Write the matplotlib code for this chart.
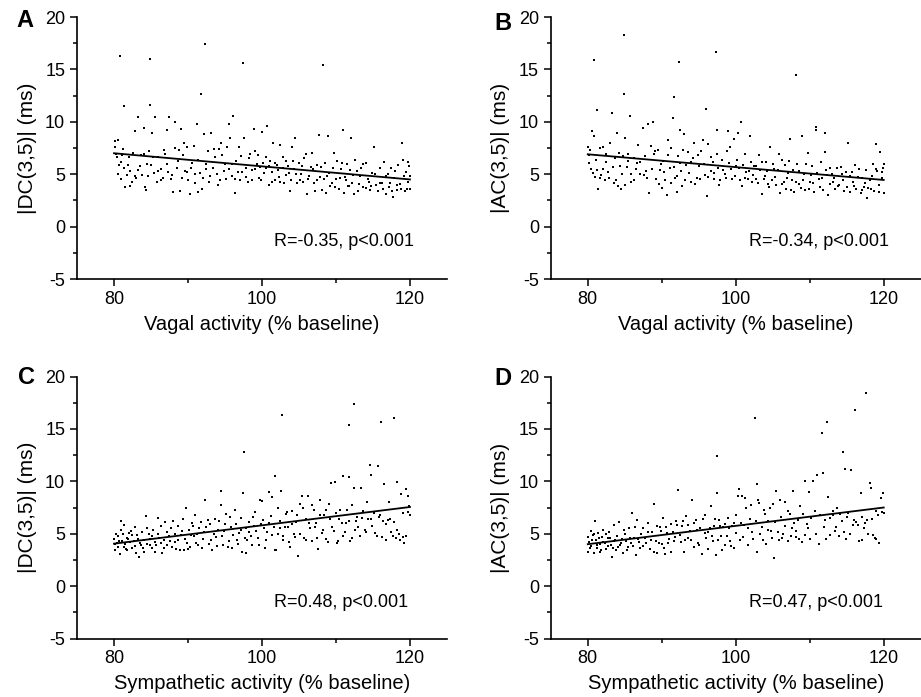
import matplotlib
matplotlib.use("Agg")
import matplotlib.pyplot as plt
from matplotlib.ticker import MultipleLocator
import numpy as np

plt.rcParams["font.family"] = ["Liberation Sans", "DejaVu Sans"]
plt.rcParams["axes.unicode_minus"] = False

# data: (activity % baseline, |DC| or |AC| in ms)
points_a = np.array([
    (80.1, 8.2), (80.3, 6.9), (80.4, 6.6), (80.5, 5.0), (80.6, 8.3), (80.8, 16.3), (80.9, 6.2), (81.0, 4.5),
    (81.2, 7.4), (81.3, 5.6), (81.4, 11.5), (81.5, 3.8), (81.7, 4.9), (82.0, 6.6), (82.2, 5.3), (82.4, 4.3),
    (82.6, 7.0), (82.8, 9.1), (83.0, 4.6), (83.2, 5.4), (83.3, 10.5), (83.6, 6.8), (83.8, 4.9), (84.0, 9.4),
    (84.2, 3.8), (84.3, 3.5), (84.5, 6.0), (84.7, 7.2), (84.9, 16.0), (84.9, 11.6), (85.0, 5.9), (85.2, 8.9),
    (85.4, 5.1), (85.6, 10.5), (85.8, 4.3), (86.0, 6.6), (86.3, 5.5), (86.6, 4.6), (86.9, 6.9), (87.1, 9.2),
    (87.3, 5.2), (87.5, 10.5), (87.7, 4.5), (88.0, 3.3), (88.2, 7.5), (88.3, 10.0), (88.5, 5.6), (88.8, 7.3),
    (89.0, 9.3), (89.2, 4.6), (89.4, 8.0), (89.6, 5.3), (89.8, 7.6), (90.0, 4.4), (90.3, 3.1), (90.6, 6.1),
    (90.8, 7.7), (91.0, 5.0), (91.2, 9.8), (91.4, 3.3), (91.7, 12.7), (91.9, 3.6), (92.1, 8.8), (92.3, 17.4),
    (92.5, 5.5), (92.7, 7.2), (92.9, 4.3), (93.1, 8.9), (93.4, 5.6), (93.7, 6.6), (94.0, 4.0), (94.2, 7.4),
    (94.5, 8.0), (94.8, 5.3), (95.0, 6.0), (95.3, 7.6), (95.5, 9.8), (95.7, 8.5), (95.9, 4.8), (96.1, 10.6),
    (96.3, 3.2), (96.5, 6.3), (96.8, 5.2), (97.0, 4.4), (97.2, 6.7), (97.4, 15.6), (97.6, 8.5), (97.9, 5.6),
    (98.1, 4.3), (98.4, 6.9), (98.7, 5.4), (98.9, 9.3), (99.1, 7.2), (99.3, 6.0), (99.6, 4.6), (99.8, 5.7),
    (100.0, 9.0), (100.2, 6.1), (100.5, 5.6), (100.7, 9.6), (100.9, 4.0), (101.1, 6.3), (101.3, 5.2), (101.5, 8.0),
    (101.8, 4.4), (102.0, 5.9), (102.3, 4.7), (102.5, 7.8), (102.8, 5.6), (103.0, 4.2), (103.3, 6.3), (103.6, 5.1),
    (103.8, 3.4), (104.1, 7.6), (104.3, 5.5), (104.5, 8.5), (104.8, 4.2), (105.0, 6.1), (105.3, 5.0), (105.6, 4.3),
    (105.9, 6.9), (106.1, 3.1), (106.4, 4.8), (106.7, 7.0), (106.9, 5.5), (107.2, 3.4), (107.5, 4.4), (107.7, 8.7),
    (108.0, 5.7), (108.2, 15.4), (108.4, 4.5), (108.7, 3.2), (108.9, 8.6), (109.1, 5.1), (109.4, 4.2), (109.7, 7.0),
    (109.9, 3.8), (110.2, 6.3), (110.5, 4.6), (110.7, 5.5), (110.9, 9.2), (111.1, 3.2), (111.3, 4.4), (111.5, 6.0),
    (111.8, 3.9), (112.0, 8.5), (112.3, 4.9), (112.5, 3.1), (112.8, 5.3), (113.1, 4.1), (113.4, 5.6), (113.7, 3.8),
    (114.0, 6.1), (114.3, 4.5), (114.6, 3.5), (114.9, 5.1), (115.2, 7.6), (115.4, 4.0), (115.7, 3.4), (116.0, 5.6),
    (116.2, 4.2), (116.5, 6.2), (116.7, 3.1), (117.0, 5.0), (117.2, 3.8), (117.4, 5.6), (117.7, 2.8), (117.9, 4.6),
    (118.2, 3.5), (118.4, 5.9), (118.6, 4.1), (118.9, 8.0), (119.1, 6.4), (119.3, 3.4), (119.5, 5.2), (119.7, 4.3),
    (119.9, 5.8), (120.0, 3.6), (120.0, 4.8),
    # dense part of the cloud
    (80.2, 7.6), (80.7, 5.9), (81.1, 6.8), (81.9, 5.9), (82.1, 3.9), (82.9, 4.8), (83.5, 5.8), (84.1, 6.9),
    (84.6, 4.8), (85.3, 6.6), (85.9, 5.3), (86.4, 4.4), (86.8, 7.3), (87.2, 6.0), (87.9, 4.9), (88.6, 6.3),
    (88.9, 3.4), (89.3, 6.8), (89.9, 5.2), (90.4, 5.6), (90.9, 4.2), (91.3, 6.4), (91.6, 5.1), (92.0, 4.6),
    (92.4, 6.0), (93.0, 4.8), (93.5, 7.4), (93.9, 5.0), (94.3, 4.4), (94.6, 6.8), (95.1, 4.5), (95.6, 5.5),
    (96.0, 6.0), (96.4, 4.5), (96.9, 7.6), (97.3, 5.2), (97.8, 4.7), (98.2, 6.5), (98.6, 4.4), (99.0, 5.5),
    (99.4, 6.8), (99.9, 4.4), (100.3, 5.1), (100.6, 6.6), (101.0, 5.8), (101.4, 4.3), (101.7, 6.1), (102.1, 5.4),
    (102.4, 4.3), (102.9, 6.6), (103.2, 4.9), (103.5, 5.8), (103.9, 4.4), (104.2, 6.3), (104.6, 5.0), (105.1, 4.4),
    (105.4, 5.8), (105.7, 6.5), (106.2, 4.5), (106.6, 5.7), (107.0, 4.2), (107.4, 5.9), (107.8, 4.7), (108.1, 3.5),
    (108.5, 6.1), (108.8, 4.8), (109.2, 3.9), (109.6, 5.6), (110.0, 4.5), (110.4, 3.6), (110.8, 6.1), (111.2, 4.7),
    (111.6, 3.9), (111.9, 5.4), (112.2, 4.2), (112.6, 6.4), (113.0, 3.4), (113.3, 4.8), (113.6, 6.0), (114.1, 3.7),
    (114.5, 4.3), (114.8, 3.9), (115.3, 5.0), (115.9, 4.2), (116.3, 3.6), (116.8, 4.8), (117.3, 4.2), (117.6, 3.4),
    (118.0, 5.3), (118.3, 4.0), (118.8, 3.6), (119.2, 4.8), (119.6, 3.6), (119.8, 6.2),
])

points_b = np.array([
    (80.1, 7.6), (80.2, 6.1), (80.3, 7.3), (80.5, 5.5), (80.6, 9.1), (80.8, 15.9), (80.9, 8.6), (81.0, 4.7),
    (81.2, 5.4), (81.3, 11.1), (81.4, 3.6), (81.6, 7.5), (81.8, 4.9), (82.1, 7.6), (82.3, 4.4), (82.5, 6.9),
    (82.7, 5.2), (83.0, 8.0), (83.3, 10.8), (83.5, 4.2), (83.7, 6.5), (83.9, 8.9), (84.1, 3.9), (84.3, 5.8),
    (84.5, 3.6), (84.7, 6.7), (84.9, 18.3), (84.9, 12.7), (85.1, 8.5), (85.3, 5.7), (85.5, 6.3), (85.7, 10.6),
    (85.9, 4.3), (86.2, 6.5), (86.5, 5.5), (86.8, 7.8), (87.1, 6.2), (87.4, 9.4), (87.6, 4.9), (87.9, 5.3),
    (88.2, 9.8), (88.3, 3.2), (88.5, 7.7), (88.8, 10.0), (89.0, 6.9), (89.2, 4.5), (89.5, 7.3), (89.7, 5.4),
    (90.0, 3.7), (90.2, 6.3), (90.5, 4.4), (90.7, 3.0), (90.9, 8.3), (91.1, 5.6), (91.3, 7.5), (91.5, 10.4),
    (91.6, 12.4), (91.8, 4.6), (92.0, 3.3), (92.2, 6.7), (92.3, 15.7), (92.4, 9.2), (92.6, 5.3), (92.8, 3.9),
    (93.0, 8.8), (93.3, 5.9), (93.6, 7.1), (93.9, 4.3), (94.2, 6.5), (94.4, 8.0), (94.7, 4.6), (95.0, 5.8),
    (95.3, 7.2), (95.6, 8.3), (95.8, 4.9), (96.0, 11.2), (96.1, 2.9), (96.3, 7.9), (96.6, 5.3), (96.9, 6.2),
    (97.1, 4.5), (97.3, 16.7), (97.4, 9.2), (97.6, 5.6), (97.9, 4.4), (98.2, 6.4), (98.5, 5.0), (98.8, 7.2),
    (98.9, 9.15), (99.2, 7.6), (99.5, 4.5), (99.8, 8.4), (100.1, 5.8), (100.3, 8.9), (100.5, 5.6), (100.7, 10.0),
    (100.9, 3.9), (101.2, 6.9), (101.4, 5.2), (101.7, 4.5), (101.9, 8.6), (102.2, 4.3), (102.5, 5.8), (102.8, 4.5),
    (103.1, 6.8), (103.3, 5.4), (103.6, 3.1), (103.9, 4.8), (104.1, 6.2), (104.4, 4.1), (104.6, 7.6), (104.9, 4.4),
    (105.2, 5.5), (105.5, 4.0), (105.8, 6.9), (106.0, 3.2), (106.3, 6.4), (106.5, 4.3), (106.8, 3.6), (107.0, 5.1),
    (107.3, 8.4), (107.6, 4.4), (107.9, 3.3), (108.2, 14.5), (108.3, 6.0), (108.6, 4.1), (108.9, 8.6), (109.2, 5.0),
    (109.4, 3.5), (109.7, 7.0), (110.0, 4.3), (110.3, 5.8), (110.6, 3.3), (110.8, 9.2), (110.9, 9.5), (111.2, 4.5),
    (111.5, 6.2), (111.8, 3.5), (112.0, 7.1), (112.1, 8.9), (112.3, 4.9), (112.5, 3.0), (112.8, 5.6), (113.1, 4.3),
    (113.4, 3.6), (113.7, 5.6), (114.0, 4.0), (114.3, 5.0), (114.6, 3.4), (114.9, 5.2), (115.2, 8.0), (115.5, 3.3),
    (115.8, 4.3), (116.1, 5.9), (116.3, 3.6), (116.6, 5.5), (116.9, 3.2), (117.1, 4.6), (117.4, 3.8), (117.6, 5.4),
    (117.8, 2.7), (118.1, 4.4), (118.3, 3.6), (118.6, 6.0), (118.9, 7.9), (119.1, 5.3), (119.3, 3.3), (119.5, 7.1),
    (119.7, 4.6), (119.9, 5.6), (120.0, 3.2), (120.0, 6.0),
    # dense part of the cloud
    (80.2, 6.8), (80.7, 5.1), (81.1, 6.4), (81.7, 4.6), (82.0, 5.5), (82.4, 6.2), (82.9, 4.6), (83.4, 5.7),
    (83.8, 4.4), (84.2, 7.0), (84.6, 5.0), (85.0, 4.0), (85.4, 6.9), (85.8, 5.0), (86.3, 4.4), (86.7, 6.1),
    (87.0, 5.0), (87.7, 6.7), (88.0, 4.6), (88.7, 5.5), (89.1, 7.2), (89.6, 4.1), (89.9, 6.0), (90.3, 5.2),
    (90.8, 6.8), (91.2, 4.2), (91.7, 5.7), (92.1, 4.8), (92.5, 6.1), (92.9, 7.3), (93.2, 4.4), (93.7, 5.1),
    (94.0, 6.2), (94.5, 4.1), (94.9, 6.8), (95.2, 4.5), (95.7, 6.0), (96.2, 4.7), (96.7, 6.6), (97.0, 5.1),
    (97.5, 6.9), (97.8, 4.0), (98.3, 5.4), (98.7, 4.6), (99.1, 6.1), (99.4, 5.5), (99.9, 4.8), (100.2, 6.4),
    (100.6, 4.4), (101.0, 5.9), (101.3, 4.6), (101.8, 5.3), (102.1, 6.2), (102.4, 4.9), (102.7, 5.8), (103.0, 4.2),
    (103.5, 6.2), (103.8, 4.5), (104.2, 5.3), (104.5, 3.8), (105.0, 6.0), (105.3, 4.7), (105.7, 5.4), (106.2, 4.1),
    (106.6, 5.9), (106.9, 4.6), (107.2, 6.3), (107.5, 3.5), (107.8, 5.4), (108.1, 4.3), (108.5, 5.3), (108.8, 3.7),
    (109.1, 4.4), (109.5, 6.0), (109.9, 3.6), (110.2, 4.9), (110.5, 4.2), (111.0, 5.1), (111.4, 3.8), (111.7, 4.6),
    (112.2, 5.4), (112.7, 4.1), (113.0, 5.0), (113.3, 4.6), (113.8, 3.9), (114.2, 5.7), (114.5, 4.4), (115.0, 3.8),
    (115.4, 4.8), (115.7, 5.2), (116.0, 3.9), (116.5, 4.7), (117.0, 3.5), (117.5, 4.2), (117.9, 3.7), (118.4, 4.8),
    (118.7, 3.4), (119.0, 5.5), (119.4, 4.0), (119.8, 5.2),
])

points_c = np.array([
    (80.0, 4.5), (80.1, 3.4), (80.3, 5.0), (80.4, 4.1), (80.5, 3.7), (80.6, 4.8), (80.8, 3.1), (80.9, 5.4),
    (81.0, 6.2), (81.1, 4.3), (81.3, 3.7), (81.4, 5.8), (81.5, 4.0), (81.7, 4.6), (81.8, 3.4), (82.0, 5.1),
    (82.2, 4.2), (82.4, 3.6), (82.5, 4.9), (82.7, 4.3), (82.9, 5.6), (83.0, 3.2), (83.2, 4.5), (83.4, 2.8),
    (83.6, 3.9), (83.8, 5.2), (84.0, 4.4), (84.1, 3.3), (84.3, 6.7), (84.5, 4.0), (84.7, 5.0), (84.9, 4.5),
    (85.1, 3.6), (85.3, 5.4), (85.5, 4.2), (85.7, 3.9), (85.9, 6.5), (86.1, 4.6), (86.3, 5.7), (86.5, 3.2),
    (86.7, 4.4), (86.9, 6.1), (87.1, 3.9), (87.4, 4.8), (87.7, 5.5), (88.0, 6.2), (88.2, 4.2), (88.4, 3.5),
    (88.7, 5.7), (89.0, 4.9), (89.3, 6.4), (89.5, 3.4), (89.7, 7.5), (89.9, 4.1), (90.1, 5.4), (90.3, 3.7),
    (90.6, 6.0), (90.8, 4.8), (91.0, 6.8), (91.2, 5.0), (91.4, 3.9), (91.7, 6.1), (92.0, 4.5), (92.3, 8.2),
    (92.5, 5.6), (92.8, 4.0), (93.0, 5.9), (93.3, 3.4), (93.6, 6.4), (93.8, 4.7), (94.1, 5.4), (94.4, 9.1),
    (94.5, 7.7), (94.7, 3.9), (94.9, 5.3), (95.2, 6.9), (95.5, 4.3), (95.8, 5.6), (96.0, 3.6), (96.3, 7.3),
    (96.6, 4.4), (96.9, 5.1), (97.1, 6.5), (97.3, 3.3), (97.5, 8.85), (97.6, 12.8), (97.8, 5.5), (98.0, 4.4),
    (98.3, 6.1), (98.6, 3.9), (98.9, 5.7), (99.1, 7.1), (99.4, 4.6), (99.7, 8.2), (99.9, 5.9), (100.2, 6.3),
    (100.4, 3.6), (100.7, 5.2), (101.0, 9.0), (101.2, 6.7), (101.4, 4.9), (101.7, 10.5), (101.9, 3.4), (102.2, 7.5),
    (102.4, 5.5), (102.6, 9.1), (102.7, 16.3), (102.9, 4.4), (103.2, 6.9), (103.5, 5.6), (103.8, 3.7), (104.0, 7.2),
    (104.3, 5.0), (104.6, 6.1), (104.9, 2.9), (105.1, 7.8), (105.4, 8.6), (105.7, 4.6), (105.9, 6.4), (106.2, 8.6),
    (106.5, 5.5), (106.8, 4.3), (107.0, 7.3), (107.3, 6.0), (107.6, 3.5), (107.9, 8.2), (108.1, 5.1), (108.4, 6.8),
    (108.7, 4.5), (109.0, 7.8), (109.3, 9.8), (109.5, 5.6), (109.9, 9.9), (110.1, 4.1), (110.4, 6.4), (110.6, 7.3),
    (110.9, 4.8), (111.0, 10.5), (111.3, 6.0), (111.7, 15.4), (111.7, 10.45), (111.9, 4.3), (112.1, 7.7), (112.4, 17.4),
    (112.4, 9.4), (112.6, 5.4), (112.9, 6.6), (113.2, 4.8), (113.4, 9.35), (113.7, 7.2), (114.0, 5.2), (114.3, 6.4),
    (114.6, 11.6), (114.7, 10.6), (114.9, 5.7), (115.2, 7.0), (115.5, 4.8), (115.7, 11.5), (115.9, 6.8), (116.1, 15.7),
    (116.3, 6.2), (116.5, 9.7), (116.7, 4.4), (117.0, 6.3), (117.2, 8.0), (117.5, 5.2), (117.8, 16.0), (117.9, 6.1),
    (118.1, 4.6), (118.3, 9.95), (118.5, 5.0), (118.8, 8.8), (119.0, 4.7), (119.2, 4.1), (119.5, 9.25), (119.7, 7.1),
    (119.8, 8.6), (120.0, 6.8),
    # dense part of the cloud
    (80.2, 4.0), (80.7, 4.3), (81.2, 5.0), (81.6, 3.5), (81.9, 4.5), (82.3, 5.3), (82.8, 3.8), (83.1, 4.9),
    (83.5, 4.1), (83.9, 3.6), (84.4, 5.5), (84.8, 3.9), (85.2, 4.8), (85.6, 3.3), (86.0, 5.0), (86.4, 4.1),
    (86.8, 3.6), (87.2, 5.2), (87.6, 4.3), (87.9, 3.7), (88.3, 5.0), (88.6, 4.4), (88.9, 3.4), (89.2, 5.3),
    (89.6, 4.5), (90.0, 3.5), (90.4, 4.9), (90.7, 5.7), (91.1, 4.1), (91.5, 5.5), (91.9, 3.6), (92.2, 5.2),
    (92.7, 6.3), (93.1, 4.4), (93.5, 5.0), (93.9, 3.8), (94.2, 6.2), (94.6, 4.8), (95.0, 5.9), (95.4, 3.7),
    (95.7, 6.6), (96.1, 4.9), (96.5, 5.9), (96.8, 4.0), (97.2, 5.4), (97.7, 4.6), (97.9, 3.2), (98.2, 5.2),
    (98.5, 4.8), (98.8, 6.6), (99.2, 5.3), (99.6, 3.9), (100.0, 8.1), (100.3, 5.5), (100.6, 4.4), (100.9, 6.0),
    (101.3, 8.5), (101.6, 5.6), (101.8, 3.4), (102.1, 5.0), (102.5, 6.2), (102.8, 4.8), (103.1, 5.6), (103.4, 7.1),
    (103.7, 4.2), (104.1, 5.9), (104.4, 4.7), (104.8, 6.8), (105.2, 5.0), (105.6, 7.5), (106.0, 4.4), (106.4, 6.0),
    (106.7, 7.7), (107.1, 5.6), (107.4, 4.6), (107.8, 6.8), (108.2, 5.4), (108.6, 7.3), (108.9, 4.2), (109.2, 6.4),
    (109.7, 5.3), (110.0, 7.0), (110.3, 4.3), (110.8, 6.0), (111.2, 5.2), (111.5, 7.3), (111.8, 6.2), (112.2, 4.6),
    (112.7, 6.2), (113.0, 5.6), (113.5, 6.5), (113.9, 5.4), (114.2, 8.0), (114.8, 6.4), (115.3, 5.1), (115.8, 6.6),
    (116.2, 4.7), (116.8, 5.9), (117.3, 6.4), (117.7, 4.8), (118.2, 5.4), (118.6, 4.4), (119.1, 7.0), (119.4, 4.8),
    (119.9, 7.6),
])

points_d = np.array([
    (80.0, 4.7), (80.1, 3.3), (80.2, 4.2), (80.4, 5.3), (80.5, 3.8), (80.7, 4.9), (80.8, 3.2), (81.0, 6.2),
    (81.1, 4.4), (81.3, 3.6), (81.4, 5.1), (81.6, 4.0), (81.8, 3.4), (81.9, 4.7), (82.1, 5.4), (82.3, 4.1),
    (82.5, 3.5), (82.7, 4.6), (82.9, 5.2), (83.1, 3.9), (83.3, 2.8), (83.5, 4.3), (83.6, 5.8), (83.8, 3.4),
    (84.0, 4.8), (84.2, 6.1), (84.4, 3.9), (84.6, 4.5), (84.8, 3.2), (85.0, 5.0), (85.2, 4.3), (85.4, 3.7),
    (85.6, 5.5), (85.8, 4.1), (86.0, 7.0), (86.2, 4.6), (86.5, 3.0), (86.7, 6.3), (86.9, 4.2), (87.2, 5.0),
    (87.5, 3.8), (87.8, 4.6), (88.1, 6.0), (88.4, 3.5), (88.7, 5.2), (89.0, 7.8), (89.2, 4.3), (89.4, 3.2),
    (89.7, 5.6), (90.0, 4.0), (90.2, 6.5), (90.4, 3.1), (90.7, 5.1), (91.0, 4.5), (91.3, 5.9), (91.6, 4.3),
    (91.9, 6.2), (92.2, 9.15), (92.4, 4.9), (92.7, 5.7), (93.0, 3.3), (93.3, 6.7), (93.5, 4.6), (93.8, 5.3),
    (94.1, 8.2), (94.3, 3.7), (94.6, 6.3), (94.9, 4.1), (95.2, 5.5), (95.5, 3.1), (95.8, 6.8), (96.0, 4.6),
    (96.3, 5.2), (96.6, 7.6), (96.9, 4.3), (97.1, 5.7), (97.3, 3.0), (97.4, 8.9), (97.5, 12.45), (97.7, 6.3),
    (98.0, 4.8), (98.3, 5.6), (98.6, 3.9), (98.9, 6.5), (99.2, 4.3), (99.5, 5.7), (99.8, 3.6), (100.1, 6.8),
    (100.4, 9.3), (100.6, 4.4), (100.9, 8.6), (101.1, 5.8), (101.4, 7.5), (101.7, 3.9), (101.9, 6.4), (102.2, 5.2),
    (102.6, 16.0), (102.9, 9.7), (102.9, 3.3), (103.2, 7.9), (103.5, 5.6), (103.8, 7.3), (104.1, 4.0), (104.4, 6.2),
    (104.7, 5.3), (105.0, 7.8), (105.2, 2.7), (105.5, 9.1), (105.8, 4.4), (106.1, 6.6), (106.4, 5.0), (106.7, 8.0),
    (107.0, 4.3), (107.3, 6.9), (107.6, 5.5), (107.8, 9.1), (108.1, 4.7), (108.4, 6.3), (108.7, 7.6), (109.0, 4.2),
    (109.3, 10.0), (109.6, 5.9), (109.9, 8.95), (110.1, 4.5), (110.5, 10.0), (110.7, 7.2), (111.0, 10.6), (111.2, 4.0),
    (111.6, 14.6), (111.8, 10.8), (112.0, 6.3), (112.3, 15.7), (112.5, 8.5), (112.8, 4.9), (113.1, 6.8), (113.4, 5.3),
    (113.7, 7.5), (114.0, 4.8), (114.3, 6.2), (114.5, 12.8), (114.7, 11.2), (114.9, 4.5), (115.2, 7.0), (115.6, 11.1),
    (115.8, 5.8), (116.1, 16.8), (116.3, 6.1), (116.6, 4.3), (116.9, 8.9), (117.1, 6.6), (117.4, 5.5), (117.6, 18.4),
    (117.8, 6.3), (118.1, 9.8), (118.3, 9.35), (118.5, 4.9), (118.8, 4.6), (119.0, 7.2), (119.3, 4.1), (119.6, 8.4),
    (119.9, 8.9), (120.0, 7.0),
    # dense part of the cloud
    (80.3, 3.6), (80.6, 4.4), (80.9, 5.0), (81.2, 3.9), (81.5, 4.6), (81.7, 3.3), (82.0, 4.2), (82.4, 5.0),
    (82.8, 3.8), (83.0, 4.6), (83.4, 3.6), (83.7, 4.4), (84.1, 3.7), (84.5, 4.1), (84.9, 5.4), (85.3, 3.4),
    (85.7, 4.6), (86.1, 3.8), (86.4, 5.6), (86.8, 4.5), (87.1, 3.6), (87.4, 5.5), (87.9, 4.1), (88.2, 5.2),
    (88.6, 4.4), (88.9, 3.3), (89.3, 5.7), (89.6, 4.1), (89.9, 5.3), (90.3, 3.6), (90.6, 5.6), (90.9, 4.1),
    (91.2, 3.3), (91.5, 5.2), (91.8, 4.7), (92.1, 5.8), (92.6, 4.2), (92.9, 6.2), (93.2, 4.4), (93.6, 5.8),
    (94.0, 4.4), (94.4, 6.0), (94.8, 5.4), (95.1, 3.9), (95.6, 6.4), (95.9, 5.1), (96.2, 3.5), (96.5, 5.5),
    (96.8, 4.8), (97.2, 6.4), (97.6, 4.4), (97.9, 5.7), (98.2, 3.4), (98.5, 5.9), (98.8, 4.8), (99.1, 5.5),
    (99.4, 3.8), (99.7, 6.0), (100.0, 5.1), (100.3, 8.6), (100.7, 6.0), (101.0, 4.7), (101.3, 8.4), (101.6, 5.5),
    (102.0, 7.7), (102.3, 4.5), (102.7, 6.2), (103.0, 8.2), (103.3, 5.0), (103.7, 4.4), (104.0, 6.9), (104.3, 5.4),
    (104.6, 7.5), (104.9, 4.6), (105.3, 6.1), (105.7, 5.2), (106.0, 8.2), (106.3, 4.6), (106.6, 5.7), (107.1, 7.2),
    (107.5, 4.8), (107.9, 6.0), (108.2, 5.3), (108.6, 4.5), (109.1, 6.9), (109.4, 4.9), (109.8, 5.5), (110.2, 6.5),
    (110.9, 5.0), (111.4, 6.8), (111.9, 5.6), (112.2, 4.5), (112.7, 6.5), (113.2, 7.2), (113.6, 5.6), (114.1, 6.9),
    (114.6, 5.2), (115.0, 6.6), (115.5, 5.0), (116.0, 6.3), (116.5, 5.8), (117.0, 4.4), (117.5, 6.0), (117.9, 5.0),
    (118.4, 6.4), (118.9, 4.5), (119.2, 6.8), (119.7, 7.1),
])

# regression lines: value at x=80 and x=120
fit_x = [80, 120]
fit_a = [7.0, 4.5]
fit_b = [6.9, 4.45]
fit_c = [4.05, 7.55]
fit_d = [4.0, 7.5]

panel_letters = ["A", "B", "C", "D"]
ylabels = ["|DC(3,5)| (ms)", "|AC(3,5)| (ms)", "|DC(3,5)| (ms)", "|AC(3,5)| (ms)"]
xlabels = ["Vagal activity (% baseline)", "Vagal activity (% baseline)",
           "Sympathetic activity (% baseline)", "Sympathetic activity (% baseline)"]
stats = ["R=-0.35, p<0.001", "R=-0.34, p<0.001", "R=0.48, p<0.001", "R=0.47, p<0.001"]
all_points = [points_a, points_b, points_c, points_d]
all_fits = [fit_a, fit_b, fit_c, fit_d]

fig = plt.figure(figsize=(9.21, 6.97), dpi=100)
fig.patch.set_facecolor("white")

boxes = [(0.0836, 0.5997, 0.4017, 0.3759), (0.598, 0.5997, 0.4017, 0.3759),
         (0.0836, 0.0839, 0.4017, 0.3759), (0.598, 0.0839, 0.4017, 0.3759)]
letter_pos = [(0.027, 0.970), (0.546, 0.967), (0.029, 0.459), (0.546, 0.457)]
stat_pos = [(120.5, -1.4), (120.7, -1.4), (119.7, -1.6), (119.9, -1.6)]

for i in range(4):
    ax = fig.add_axes(boxes[i])
    pts = all_points[i]
    ax.scatter(pts[:, 0], pts[:, 1], s=4, marker="s", color="k", linewidths=0)
    ax.plot(fit_x, all_fits[i], color="k", linewidth=1.3)

    ax.set_xlim(75, 125)
    ax.set_ylim(-5, 20)
    ax.xaxis.set_major_locator(MultipleLocator(20))
    ax.xaxis.set_minor_locator(MultipleLocator(10))
    ax.yaxis.set_major_locator(MultipleLocator(5))
    ax.yaxis.set_minor_locator(MultipleLocator(2.5))
    ax.set_xticks([80, 100, 120])
    for s in ["top", "right"]:
        ax.spines[s].set_visible(False)
    for s in ["left", "bottom"]:
        ax.spines[s].set_linewidth(1.2)
    ax.tick_params(which="major", direction="out", length=5, width=1.1, labelsize=13)
    ax.tick_params(which="minor", direction="out", length=3, width=1.1)

    ax.set_xlabel(xlabels[i], fontsize=14.5, labelpad=5)
    ax.set_ylabel(ylabels[i], fontsize=15, labelpad=6)
    ax.text(stat_pos[i][0], stat_pos[i][1], stats[i], ha="right", va="center", fontsize=13)

    fig.text(letter_pos[i][0], letter_pos[i][1], panel_letters[i], fontsize=17,
             fontweight="bold", ha="center", va="center")

fig.savefig("out.png", dpi=100, facecolor="white")
